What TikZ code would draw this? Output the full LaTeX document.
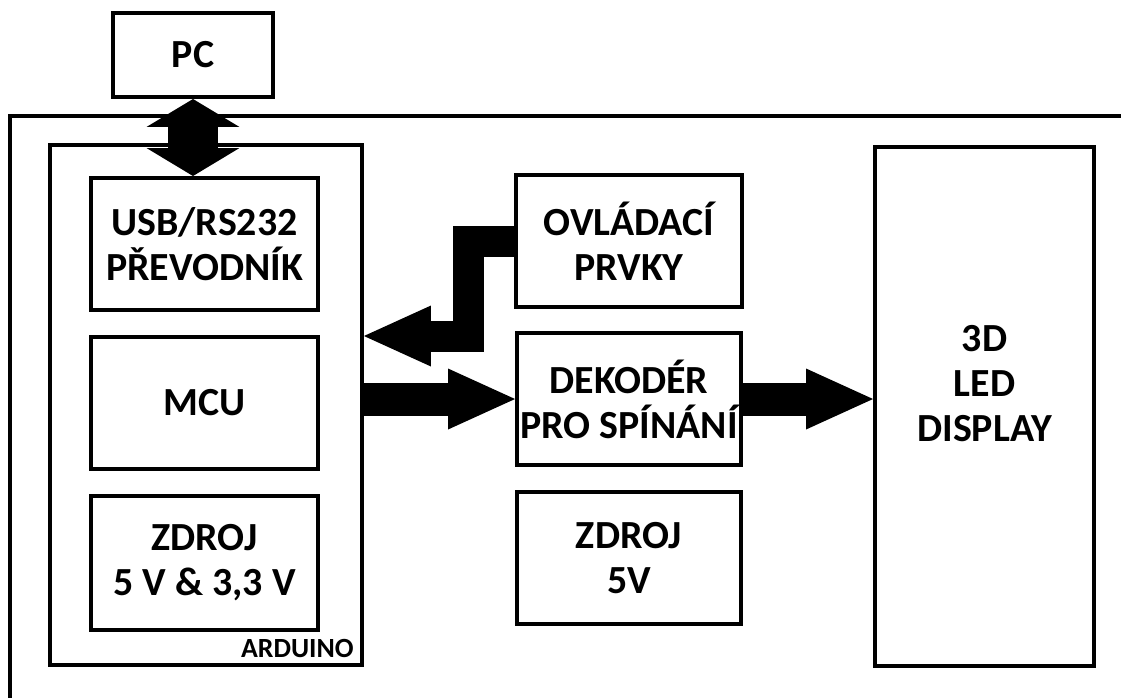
\documentclass[tikz,border=0pt]{standalone}
\usepackage{fontspec}
\setmainfont{Carlito}
\usetikzlibrary{arrows.meta, positioning}

\begin{document}
\begin{tikzpicture}[x=0.02cm, y=-0.02cm,
            node distance=0.46cm,
            blok/.style={draw, line width=0.08cm, minimum width=4.54cm,
                         minimum height=2.64cm, inner sep=0pt, align=center,
                         font={\bfseries\fontsize{22.7pt}{25.5pt}\selectfont}},
            popis/.style={font={\bfseries\fontsize{15.8pt}{18pt}\selectfont},
                          inner sep=0pt},
            sipka/.style={line width=0.66cm,
                          -{Triangle[length=1.34cm, width=1.22cm, line width=0pt]}},
            dvojsipka/.style={line width=1cm,
                          {Triangle[length=0.56cm, width=1.86cm, line width=0pt]}-{Triangle[length=0.56cm, width=1.86cm, line width=0pt]}}]

            \useasboundingbox (0,0) rectangle (1121,697);

            %% ── Frame ─────────────────────────────────────────────────────
            \draw[line width=0.08cm] (10,700) -- (10,116) -- (1125,116);

            %% ── Nodes ─────────────────────────────────────────────────────
            \node[blok, minimum width=3.2cm, minimum height=1.68cm]
                                                   (pc)      at (193,55)  {PC};
            \node[blok, minimum width=6.24cm, minimum height=10.4cm]
                                                   (arduino) at (206,405) {};
            \node[blok]                            (usb)     at (204.5,244)
                                                   {USB/RS232\\PŘEVODNÍK};
            \node[blok, below=of usb]              (mcu)     {MCU};
            \node[blok, below=of mcu, minimum height=2.68cm]
                                                   (zdroj1)  {ZDROJ\\5 V \& 3,3 V};
            \node[popis, anchor=base east] at ([xshift=-0.2cm, yshift=0.18cm]arduino.south east)
                                                   (ard)     {ARDUINO};

            \node[blok, minimum width=4.48cm]      (dek)     at (629,399)
                                                   {DEKODÉR\\PRO SPÍNÁNÍ};
            \node[blok, minimum width=4.54cm, above=0.44cm of dek]
                                                   (ovl)     {OVLÁDACÍ\\PRVKY};
            \node[blok, minimum width=4.48cm, below=of dek]
                                                   (zdroj2)  {ZDROJ\\5V};

            \node[blok, minimum width=4.38cm, minimum height=10.38cm]
                                                   (disp)    at (984.5,406.5) {};
            \node[blok, draw=none] at ([yshift=0.46cm]disp.center)
                                                   (disptxt) {3D\\LED\\DISPLAY};

            \coordinate (ohyb) at (468,336);

            %% ── Arrows ────────────────────────────────────────────────────
            \draw[dvojsipka] (pc.south) -- (pc.south |- usb.north);

            \draw[sipka, line width=0.62cm, line join=miter]
                (ovl.west) -| (ohyb) -- (arduino.east |- ohyb);

            \draw[sipka] (arduino.east |- dek.west) -- (dek.west);
            \draw[sipka] (dek.east) -- (disp.west |- dek.east);

\end{tikzpicture}
\end{document}
